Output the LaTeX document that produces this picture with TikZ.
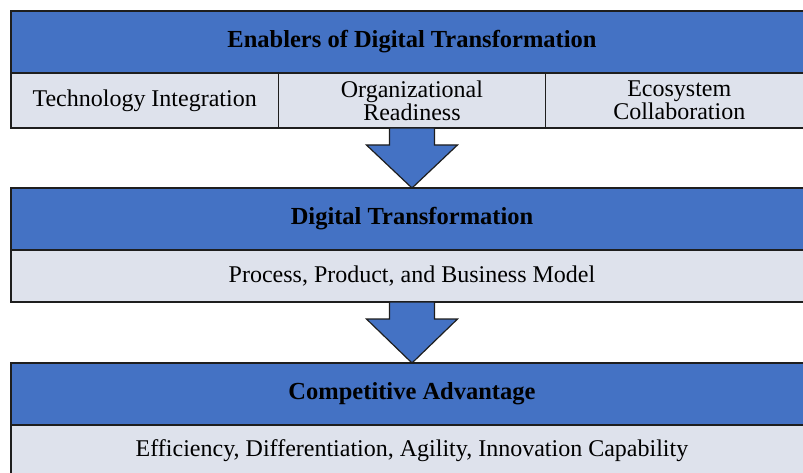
\documentclass[tikz,border=0pt]{standalone}
\usepackage{fontspec}
\setmainfont{Liberation Serif}
\usepackage{tikz}
\usetikzlibrary{positioning,calc}
\definecolor{HeadBlue}{RGB}{68,114,196}
\definecolor{CellGray}{RGB}{222,226,236}
\definecolor{EdgeDark}{RGB}{30,30,30}

\newcommand{\flowarrow}[2]{%
\draw[flow] ($(#1.south)+(-22.5,0)$) -- ($(#1.south)+(22.5,0)$)
-- ($(#1.south)+(22.5,-17)$) -- ($(#1.south)+(45.5,-17)$)
-- (#2.north) -- ($(#1.south)+(-45.5,-17)$)
-- ($(#1.south)+(-22.5,-17)$) -- cycle;}

\begin{document}
\begin{tikzpicture}[
x=1pt,y=1pt,
font=\fontsize{24}{23}\selectfont,
head/.style={
draw=EdgeDark,
line width=1.2pt,
fill=HeadBlue,
minimum width=802pt,
minimum height=62pt,
outer sep=0pt,
font=\fontsize{24.5}{23}\selectfont\bfseries
},
cell/.style={
draw=EdgeDark,
line width=1.2pt,
fill=CellGray,
minimum height=#1,
outer sep=0pt,
align=center
},
flow/.style={draw=EdgeDark,line width=1.2pt,fill=HeadBlue,line join=miter}
]
\clip (0,0) rectangle (803,472);

\node[head] (enablers) at (412,430) {Enablers of Digital Transformation};
\node[cell=55pt,minimum width=267.3pt,below right=0pt and 0pt of enablers.south west] (tech) {Technology Integration};
\node[cell=55pt,minimum width=267.3pt,right=0pt of tech] (org) {Organizational\\Readiness};
\node[cell=55pt,minimum width=267.3pt,right=0pt of org] (eco) {Ecosystem\\Collaboration};

\node[head,below=60pt of org.south -| enablers.south] (digital) {Digital Transformation};
\node[cell=52pt,minimum width=802pt,below=0pt of digital] (process) {Process, Product, and Business Model};

\node[head,below=61pt of process] (advantage) {Competitive Advantage};
\node[cell=52pt,minimum width=802pt,below=0pt of advantage] (gains) {Efficiency, Differentiation, Agility, Innovation Capability};

\flowarrow{org}{digital}
\flowarrow{process}{advantage}
\end{tikzpicture}
\end{document}
